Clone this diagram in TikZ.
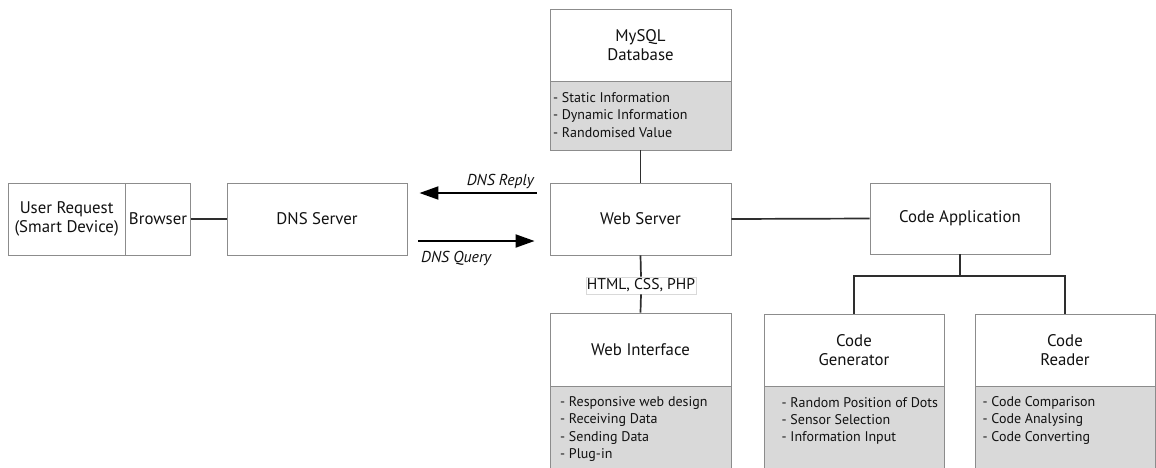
\documentclass[tikz,border=0pt]{standalone}
\usepackage{fontspec}
\setmainfont{PT Sans}
\usetikzlibrary{arrows.meta,calc}
\definecolor{edge}{HTML}{8C8C8C}
\definecolor{panel}{HTML}{D9D9D9}
\definecolor{wire}{HTML}{2E2E2E}
\definecolor{ink}{HTML}{111111}
\begin{document}
\begin{tikzpicture}[x=1pt,y=-1pt,
  every node/.style={text=ink},
  box/.style={draw=edge, line width=0.9pt, fill=white, inner sep=0pt,
    align=center, font=\fontsize{16.8}{19}\selectfont},
  itembox/.style={draw=edge, line width=0.9pt, fill=panel, inner sep=0pt},
  item/.style={anchor=west, inner sep=0pt, font=\fontsize{14}{16}\selectfont},
  wireline/.style={draw=wire, line width=1.7pt},
  flow/.style={draw=black, line width=2pt, -{Triangle[length=19pt,width=13pt]}},
  flowlabel/.style={inner sep=0pt, font=\fontsize{15.8}{18}\selectfont\itshape},
  tag/.style={draw=black!15, line width=0.6pt, fill=white, inner sep=0pt,
    minimum width=110pt, minimum height=17pt, font=\fontsize{15.6}{17}\selectfont}]
\useasboundingbox (0,0) rectangle (1156,467);
\clip (0,0) rectangle (1156,467);
\fill[white] (0,0) rectangle (1156,467);

% client side
\node[box, minimum width=117.3pt, minimum height=72pt] (user) at (66.6,219) {User Request\\(Smart Device)};
\node[box, minimum width=65.4pt, minimum height=72pt] (browser) at (158,219) {Browser};
\node[box, minimum width=180pt, minimum height=72pt] (dns) at (317,219) {DNS Server};

% web server and database
\node[box, minimum width=181pt, minimum height=72pt] (web) at (640.5,219) {Web Server};
\node[box, minimum width=181pt, minimum height=72pt] (mysql) at (640.5,45) {MySQL\\Database};
\node[itembox, minimum width=181pt, minimum height=69pt] (mysqlinfo) at (640.5,115.5) {};
\node[item] (m1) at (553,98) {- Static Information};
\node[item] (m2) at (553,116) {- Dynamic Information};
\node[item] (m3) at (553,133) {- Randomised Value};

% web interface
\node[box, minimum width=181pt, minimum height=73pt] (webif) at (640.5,349.5) {Web Interface};
\node[itembox, minimum width=181pt, minimum height=100pt] (webifinfo) at (640.5,436) {};
\node[item] (w1) at (560,403) {- Responsive web design};
\node[item] (w2) at (560,420.5) {- Receiving Data};
\node[item] (w3) at (560,438) {- Sending Data};
\node[item] (w4) at (560,455.5) {- Plug-in};

% code application tree
\node[box, minimum width=180pt, minimum height=71pt] (app) at (960,218.5) {Code Application};
\node[box, minimum width=180pt, minimum height=72pt] (gen) at (854,350) {Code\\Generator};
\node[itembox, minimum width=180pt, minimum height=100pt] (geninfo) at (854,436) {};
\node[item] (g1) at (781.5,403) {- Random Position of Dots};
\node[item] (g2) at (781.5,420) {- Sensor Selection};
\node[item] (g3) at (781.5,437.5) {- Information Input};
\node[box, minimum width=180pt, minimum height=72pt] (reader) at (1065,350) {Code\\Reader};
\node[itembox, minimum width=180pt, minimum height=100pt] (readerinfo) at (1065,436) {};
\node[item] (r1) at (982.5,403) {- Code Comparison};
\node[item] (r2) at (982.5,420) {- Code Analysing};
\node[item] (r3) at (982.5,437.5) {- Code Converting};

% connectors
\draw[wireline] (browser.east) -- (dns.west);
\draw[wireline] (mysqlinfo.south) -- (web.north);
\draw[wireline] (web.east) -- (app.west);
\node[tag] (lang) at (641,285.5) {HTML, CSS, PHP};
\draw[wireline] (web.south) -- (lang.north);
\draw[wireline] (lang.south) -- (webif.north);
\coordinate (fork) at (960,276);
\draw[wireline] (app.south) -- (fork);
\draw[wireline] (fork) -| (gen.north);
\draw[wireline] (fork) -| (reader.north);

% DNS exchange
\draw[flow] ([yshift=26pt,xshift=-13pt]web.west) -- ([yshift=26pt,xshift=12pt]dns.east);
\draw[flow] ([yshift=-22pt,xshift=11pt]dns.east) -- ([yshift=-22pt,xshift=-15pt]web.west);
\node[flowlabel, anchor=east] (reply) at (534,181) {DNS Reply};
\node[flowlabel, anchor=west] (query) at (421,258) {DNS Query};
\end{tikzpicture}
\end{document}
